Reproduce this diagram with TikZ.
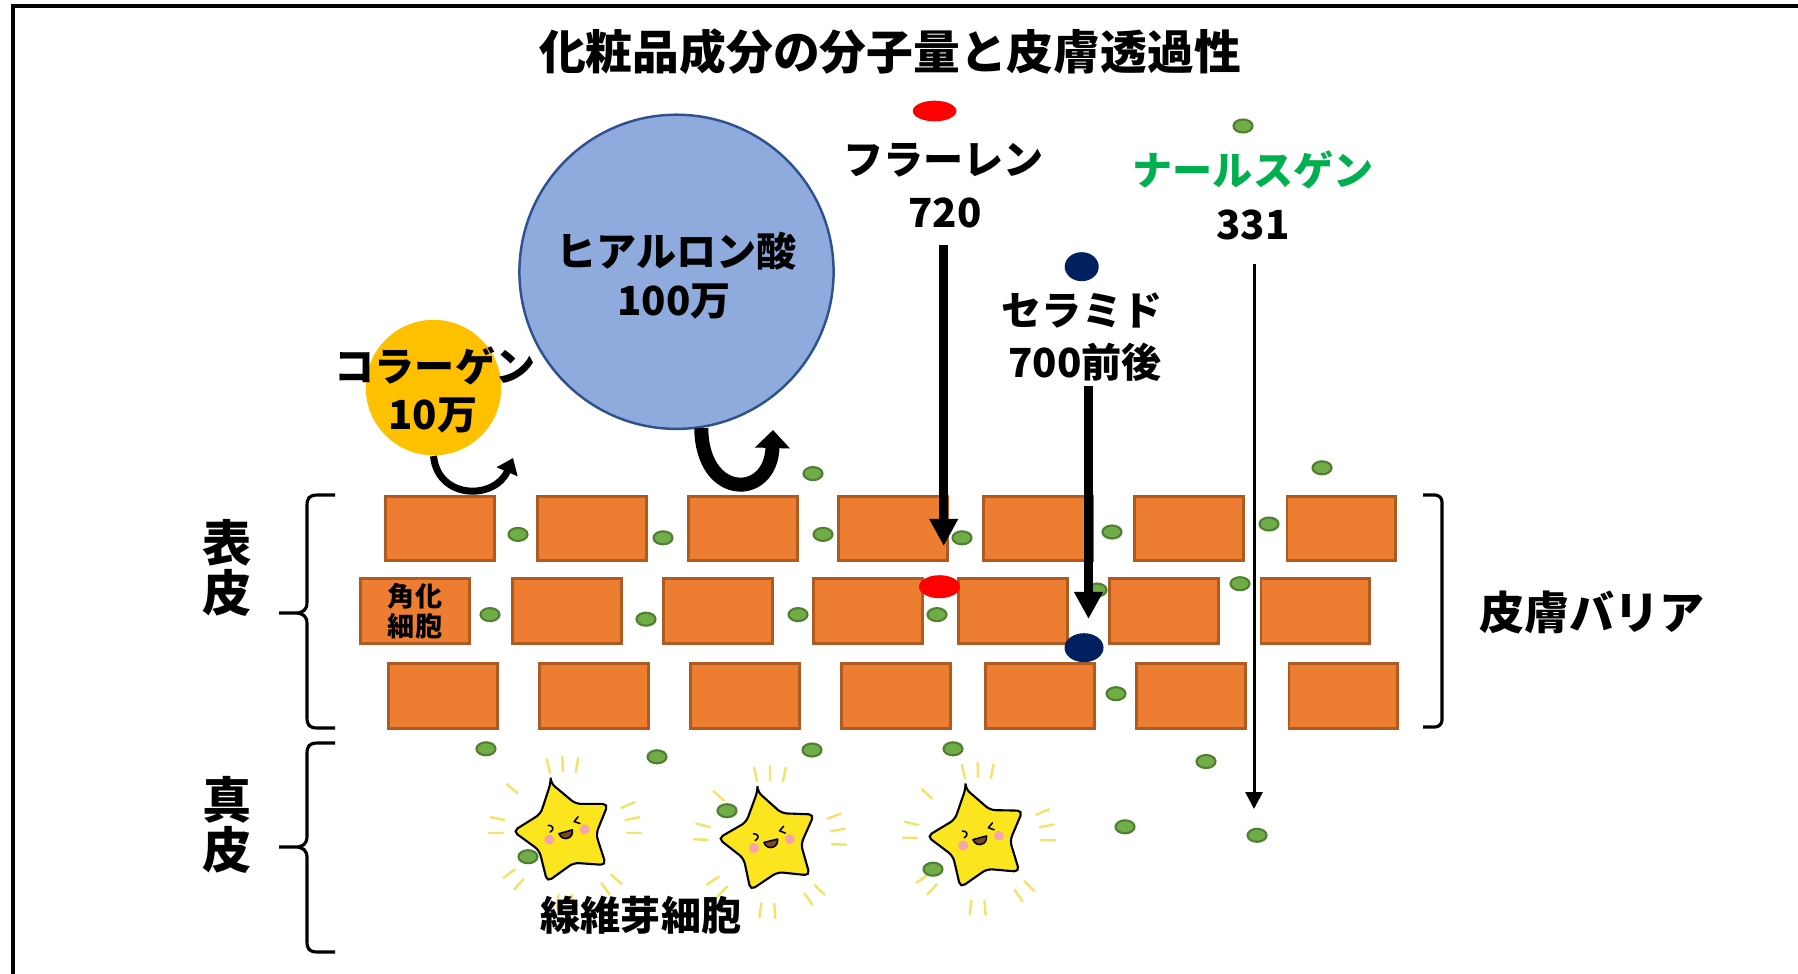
\documentclass[tikz,border=0pt]{standalone}
\usepackage{fontspec}
\setmainfont{Noto Sans CJK JP}
\usetikzlibrary{arrows.meta}
\definecolor{brickfill}{HTML}{ED7D31}
\definecolor{brickedge}{HTML}{AE5A21}
\definecolor{hyafill}{HTML}{8FAADC}
\definecolor{hyaedge}{HTML}{2F528F}
\definecolor{colfill}{HTML}{FFC000}
\definecolor{navy}{HTML}{002060}
\definecolor{nahlsgreen}{HTML}{00B050}
\definecolor{dotfill}{HTML}{70AD47}
\definecolor{dotedge}{HTML}{507E32}
\definecolor{staryellow}{HTML}{FAE51E}
\definecolor{sparkleyellow}{HTML}{F2E36A}
\definecolor{cheekpink}{HTML}{F5A3B0}
\definecolor{mouthbrown}{HTML}{7A4A22}

% fibroblast star: centre x, centre y, tilt
\newcommand\fibro[3]{%
\begin{scope}[shift={(#1,#2)},x=0.01cm,y=0.01cm,rotate=#3]
\foreach \a in {64,76,88,8,-4,-16,-58,-70,-100,-112,-148,-160,152,164,124}
  \draw[sparkle] (\a:62) -- (\a:76);
\filldraw[starbody] (90:52) \foreach \k in {0,...,4} {-- ({126+72*\k}:31) -- ({162+72*\k}:52)} -- cycle;
\fill[cheekpink] (-17,-2) circle [radius=0.05cm] (20,-2) circle [radius=0.05cm];
\draw[face] (-14,12) .. controls (-9,11) and (-9,6) .. (-14,5);
\draw[face] (17,12) -- (12,8.5) -- (17,5);
\filldraw[face,fill=mouthbrown] (-6,1) .. controls (-5,-8) and (7,-8) .. (8,1) -- cycle;
\end{scope}}

\begin{document}
\begin{tikzpicture}[x=0.01cm,y=-0.01cm,
  brick/.style={draw=brickedge,fill=brickfill,line width=0.85pt,minimum width=1.08cm,minimum height=0.64cm,inner sep=0pt},
  molname/.style={font=\fontsize{11.4}{14}\selectfont\bfseries,inner sep=0pt},
  greendot/.style={draw=dotedge,fill=dotfill,line width=0.6pt},
  bigarrow/.style={line width=0.09cm,-{Triangle[width=0.27cm,length=0.27cm]}},
  sparkle/.style={sparkleyellow,line width=0.7pt,line cap=round},
  starbody/.style={draw=black,fill=staryellow,line width=0.6pt,rounded corners=1.5pt},
  face/.style={black,line width=0.45pt,line cap=round,line join=round},
  side/.style={line width=0.9pt}]
\useasboundingbox (0,0) rectangle (1798,973);
\draw[line width=1pt] (13,980) -- (13,6) -- (1805,6);

\node[font=\fontsize{13.3}{16}\selectfont\bfseries] (title) at (890,52) {化粧品成分の分子量と皮膚透過性};

% skin layers
\foreach \x [count=\i] in {440,592,743,893,1038,1189,1341}
  \node[brick] (a\i) at (\x,528.5) {};
\node[brick,font=\fontsize{7.7}{8.6}\selectfont\bfseries,align=center] (b1) at (415,611) {角化\\細胞};
\foreach \x [count=\i from 2] in {567,718,868,1013,1164,1315}
  \node[brick] (b\i) at (\x,611) {};
\foreach \x [count=\i] in {443,594,745,896,1040,1191,1343}
  \node[brick] (c\i) at (\x,696) {};

\fibro{565}{833}{16}
\fibro{770}{842}{14}
\fibro{979}{839}{15}
\node[molname] (fibtext) at (641,915) {線維芽細胞};

\foreach \x/\y in {813/473.6,1322/467.8,518/534.4,663/537.8,823/534.4,962/537.8,1112/532,1269/524,
  490/614.6,646/619.2,798/614.6,937/614.6,1240/583.7,1097/590,1116/693.7,486/748.8,657/756.8,
  812/750,953/748.8,1206/761.5,1257/835.3,1125/826.8,727/810.7,528/856.7,933/869.2,1243/126}
  \filldraw[greendot] (\x,\y) ellipse [x radius=0.095cm,y radius=0.065cm];

% molecules
\node[circle,fill=colfill,minimum size=1.354cm,inner sep=0pt] (col) at (433.5,387.6) {};
\node[molname] (colname) at (435,366) {コラーゲン};
\node[molname] (colnum) at (433,416) {10万};
\node[circle,draw=hyaedge,fill=hyafill,line width=0.7pt,minimum size=3.14cm,inner sep=0pt] (hya) at (676.5,271.8) {};
\node[molname] (hyaname) at (676.5,251) {ヒアルロン酸};
\node[molname] (hyanum) at (674,301.6) {100万};

\fill[red] (934.6,111) ellipse [x radius=0.218cm,y radius=0.103cm];
\node[molname] (flname) at (943.7,160.5) {フラーレン};
\node[molname] (flnum) at (945,213) {720};
\fill[red] (939.5,586.7) ellipse [x radius=0.205cm,y radius=0.115cm];

\fill[navy] (1081.7,266.7) ellipse [x radius=0.17cm,y radius=0.145cm];
\node[molname] (cername) at (1082,311) {セラミド};
\node[molname] (cernum) at (1085,362) {700前後};
\fill[navy] (1084,647.7) ellipse [x radius=0.195cm,y radius=0.145cm];

\node[molname,text=nahlsgreen] (nlname) at (1253,170) {ナールスゲン};
\node[molname] (nlnum) at (1253,225) {331};

% paths through the skin
\coordinate (colend) at (513,458);
\coordinate (hyaend) at (773,430);
\coordinate (flend) at (943.7,546);
\coordinate (cerend) at (1088.5,619);
\coordinate (nlend) at (1254,809);
\draw[line width=0.07cm,-{Triangle[width=0.22cm,length=0.15cm]}] (col.south) .. controls (438,500) and (495,500) .. (colend);
\draw[line width=0.14cm,-{Triangle[width=0.34cm,length=0.18cm]}] (hya.-81) .. controls (702,500) and (771,500) .. (hyaend);
\draw[bigarrow,shorten <=0.16cm] (flnum.south -| flend) -- (flend);
\draw[bigarrow,shorten <=0.04cm] (cernum.south -| cerend) -- (cerend);
\draw[line width=0.03cm,-{Triangle[width=0.17cm,length=0.17cm]},shorten <=0.23cm] (nlnum.south -| nlend) -- (nlend);

% layer brackets
\foreach \t/\m/\b in {495/613/728,743/847/952}
  \draw[side] (335,\t) -- (318,\t) .. controls (309,\t) and (307,\t+3) .. (307,\t+11)
    -- (307,\m-11) .. controls (307,\m-3) and (303,\m) .. (295,\m) -- (279,\m)
    (295,\m) .. controls (303,\m) and (307,\m+3) .. (307,\m+11)
    -- (307,\b-11) .. controls (307,\b-3) and (309,\b) .. (318,\b) -- (335,\b);
\node[font=\fontsize{14}{14.2}\selectfont\bfseries,align=center] (epi) at (227,568) {表\\皮};
\node[font=\fontsize{14}{14.2}\selectfont\bfseries,align=center] (derm) at (227,825) {真\\皮};
\draw[side,rounded corners=2pt] (1423,495) -- (1442,495) -- (1442,727) -- (1423,727);
\node[font=\fontsize{12.8}{15}\selectfont\bfseries] (barrier) at (1592,612) {皮膚バリア};
\end{tikzpicture}
\end{document}
